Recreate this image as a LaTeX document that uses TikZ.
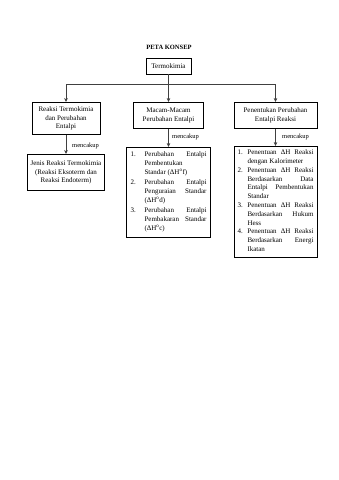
\documentclass[tikz,border=0pt]{standalone}
\usepackage{fontspec}
\setmainfont{Liberation Serif}
\usetikzlibrary{arrows.meta}
\newcommand{\itm}[3]{\par\hangindent=#1\hangafter=1\noindent\makebox[#1][l]{#2}#3}
\begin{document}
\begin{tikzpicture}[x=1pt,y=-1pt,
  box/.style={draw=black, line width=0.8pt, inner sep=3pt, font=\fontsize{7}{8.6}\selectfont, align=center},
  conn/.style={draw=black!75, line width=1pt},
  arr/.style={conn, -{Stealth[length=4pt,width=3.6pt]}},
  lbl/.style={font=\fontsize{6.5}{8}\selectfont, anchor=west, inner sep=0pt}]
\useasboundingbox[fill=white] (0,0) rectangle (339,480);
\node[font=\bfseries\fontsize{6.5}{8}\selectfont] (title) at (169,47) {PETA KONSEP};
\node[box, minimum width=45pt, minimum height=16pt] (t) at (168.5,66) {Termokimia};
\coordinate (hub) at (168.5,84);
\node[box, minimum width=68pt, minimum height=32pt, anchor=north] (b1) at (66,102) {Reaksi Termokimia\\dan Perubahan\\Entalpi};
\node[box, minimum width=70pt, minimum height=26pt, anchor=north] (b2) at (168.5,102) {Macam-Macam\\Perubahan Entalpi};
\node[box, minimum width=83pt, minimum height=26pt, anchor=north] (b3) at (275.5,102) {Penentukan Perubahan\\Entalpi Reaksi};
\node[box, minimum width=72pt, minimum height=36pt, anchor=north] (j) at (66,154) {Jenis Reaksi Termokimia\\(Reaksi Eksoterm dan\\Reaksi Endoterm)};
\node[box, inner sep=4pt, anchor=north, font=\fontsize{7}{9.3}\selectfont] (b2b) at (168.5,147) {\parbox[t]{76pt}{%
\itm{14pt}{1.}{Perubahan Entalpi\linebreak Pembentukan\\Standar (ΔH\textsuperscript{o}f)}%
\itm{14pt}{2.}{Perubahan Entalpi\linebreak Penguraian Standar\linebreak (ΔH\textsuperscript{o}d)}%
\itm{14pt}{3.}{Perubahan Entalpi\linebreak Pembakaran Standar\linebreak (ΔH\textsuperscript{o}c)}\strut}};
\node[box, inner sep=3.5pt, anchor=north, font=\fontsize{7}{8.8}\selectfont] (b3b) at (275.5,146) {\parbox[t]{76pt}{%
\itm{10pt}{1.}{Penentuan ΔH Reaksi\linebreak dengan Kalorimeter}%
\itm{10pt}{2.}{Penentuan ΔH Reaksi\linebreak Berdasarkan Data\linebreak Entalpi Pembentukan\linebreak Standar}%
\itm{10pt}{3.}{Penentuan ΔH Reaksi\linebreak Berdasarkan Hukum\linebreak Hess}%
\itm{10pt}{4.}{Penentuan ΔH Reaksi\linebreak Berdasarkan Energi\linebreak Ikatan}\strut}};
\draw[conn] (t.south) -- (hub);
\draw[arr] (hub) -| (b1.north);
\draw[arr] (hub) -- (b2.north);
\draw[arr] (hub) -| (b3.north);
\draw[arr] (b1.south) -- (j.north);
\draw[arr] (b2.south) -- (b2b.north);
\draw[arr] (b3.south) -- (b3b.north);
\node[lbl] (m1) at (72,146) {mencakup};
\node[lbl] (m2) at (172,137) {mencakup};
\node[lbl] (m3) at (282,137) {mencakup};
\end{tikzpicture}
\end{document}
